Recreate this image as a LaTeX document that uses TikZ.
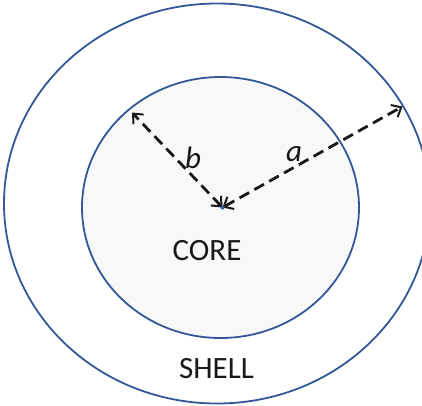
\documentclass[tikz,border=0pt]{standalone}
\usepackage{fontspec}
\setmainfont{Carlito}
\usetikzlibrary{arrows.meta}
\definecolor{rimblue}{RGB}{50,88,150}
\definecolor{coregray}{RGB}{248,248,249}

\begin{document}
\begin{tikzpicture}[x=1pt,y=-1pt,>={Straight Barb[length=8pt,width=14pt,line width=2pt]}]
  \tikzset{
    rim/.style={draw=rimblue,line width=1.8pt},
    radius arrow/.style={<->,line width=2.8pt,dash pattern=on 11pt off 6pt,black!90},
    lbl/.style={font=\fontsize{31}{31}\selectfont,text=black!90}
  }
  \useasboundingbox (0,0) rectangle (422,405);
  \clip (0,0) rectangle (422,405);
  % shell and core
  \draw[rim] (217,203.5) ellipse [x radius=213,y radius=200];
  \draw[rim,fill=coregray] (220.5,207.5) ellipse [x radius=138.5,y radius=130.5];
  % centre and radius ends
  \coordinate (O) at (222.5,207.5);
  \coordinate (Bend) at (132,112.5);
  \coordinate (Aend) at (402.5,106.5);
  \draw[radius arrow] (O) -- (Bend);
  \draw[radius arrow] (O) -- (Aend);
  \fill[rimblue] (O) circle (2);
  % labels
  \node[lbl,font=\fontsize{31}{31}\selectfont\itshape] (b) at (193,158) {b};
  \node[lbl,font=\fontsize{31}{31}\selectfont\itshape] (a) at (294,154) {a};
  \node[lbl] (core) at (207,251) {CORE};
  \node[lbl] (shell) at (216.5,369) {SHELL};
\end{tikzpicture}
\end{document}
